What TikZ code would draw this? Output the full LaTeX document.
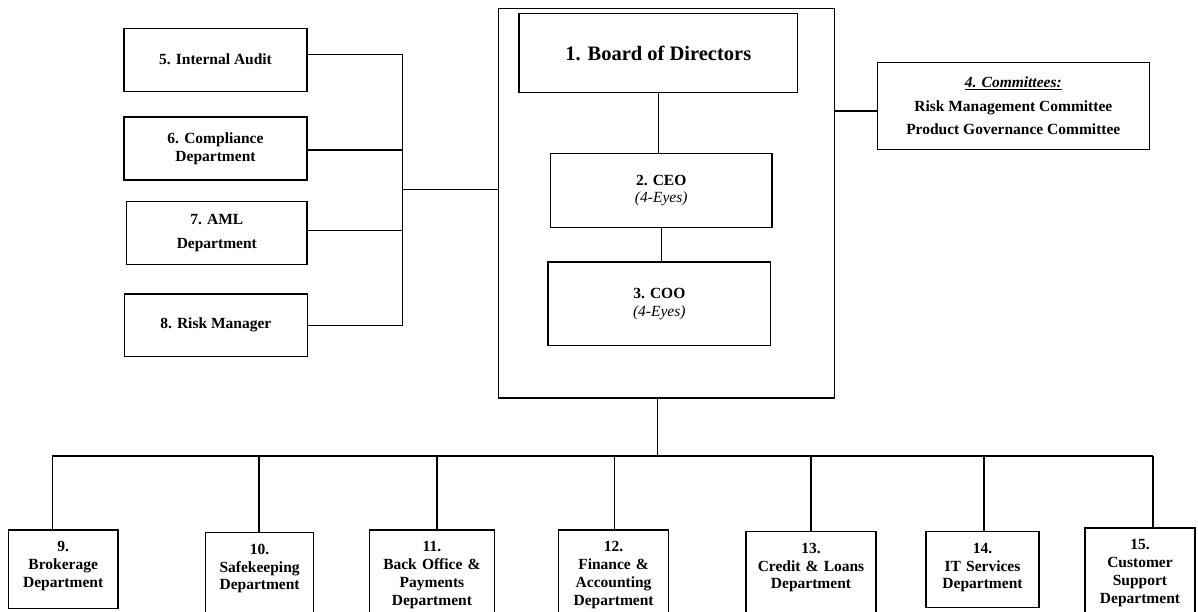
\documentclass[tikz,border=0pt]{standalone}
\usepackage{fontspec}
\setmainfont{Liberation Serif}
\usetikzlibrary{positioning}

\begin{document}
\begin{tikzpicture}
                [x=1pt,y=-1pt,
                 every node/.style={font=\fontsize{15.5}{17.8}\selectfont\bfseries},
                 box/.style={draw,line width=1.2pt,align=center,inner sep=2pt},
                 dept/.style={box,anchor=north,inner sep=0pt,text width=#1,text height=22pt},
                 link/.style={line width=1.2pt}]

                \useasboundingbox (0,0) rectangle (1198,611);
                \clip (0,0) rectangle (1198,611);

                % management block
                \node[box,minimum width=336pt,minimum height=389.7pt] (mgmt) at (666.7,203.2) {};
                \node[box,minimum width=278.7pt,minimum height=78.6pt,
                      font=\fontsize{20.5}{24}\selectfont\bfseries] (board) at (658.3,53) {1. Board of Directors};
                \node[box,minimum width=221.7pt,minimum height=74.4pt] (ceo) at (661.2,190.5) {2. CEO\\{\mdseries\itshape (4-Eyes)}};
                \node[box,minimum width=222.7pt,minimum height=83.7pt] (coo) at (659.3,303.8) {3. COO\\{\mdseries\itshape (4-Eyes)}};

                \node[box,minimum width=272pt,minimum height=87pt] (committees) at (1013.3,105.8)
                    {\underline{\itshape 4. Committees:}\\[5.5pt]Risk Management Committee\\[5.5pt]Product Governance Committee};

                % control functions
                \node[box,minimum width=183pt,minimum height=63pt]   (unit 5) at (215.5,59.7)  {5. Internal Audit};
                \node[box,minimum width=183pt,minimum height=63pt]   (unit 6) at (215.5,148.5) {6. Compliance\\Department};
                \node[box,minimum width=180.3pt,minimum height=62.6pt] (unit 7) at (216.8,233) {7. AML\\[6pt]Department};
                \node[box,minimum width=183pt,minimum height=62.7pt] (unit 8) at (215.8,325.3) {8. Risk Manager};

                % departments
                \node[dept=109.6pt,text depth=56.7pt] (dept 9)  at (63.2,529.3)  {9.\\Brokerage\\Department};
                \node[dept=108.3pt,text depth=70pt]   (dept 10) at (259.6,531.7) {10.\\Safekeeping\\Department};
                \node[dept=125.1pt,text depth=70pt]   (dept 11) at (431.9,529.3) {11.\\Back Office \&\\Payments\\Department};
                \node[dept=109.7pt,text depth=70pt]   (dept 12) at (613.6,529.3) {12.\\Finance \&\\Accounting\\Department};
                \node[dept=130pt,text depth=70pt]     (dept 13) at (811,530.7)   {13.\\Credit \& Loans\\Department};
                \node[dept=113pt,text depth=54pt]     (dept 14) at (982.5,530.7) {14.\\IT Services\\Department};
                \node[dept=110pt,text depth=70pt]     (dept 15) at (1140,527.3)  {15.\\Customer\\Support\\Department};

                % connectors
                \draw[link] (board.south) -- (board.south |- ceo.north);
                \draw[link] (ceo.south) -- (ceo.south |- coo.north);
                \draw[link] ([yshift=-5.2pt]committees.west) -- ([yshift=-5.2pt]committees.west -| mgmt.east);

                \coordinate (left bus) at (402.3,189.3);
                \draw[link] ([yshift=5.5pt]unit 5.east) -| (left bus);
                \draw[link] ([yshift=-1.5pt]unit 6.east) -- ([yshift=-1.5pt]unit 6.east -| left bus);
                \draw[link] ([yshift=2.3pt]unit 7.east) -- ([yshift=2.3pt]unit 7.east -| left bus);
                \draw[link] (unit 8.east) -| (left bus);
                \draw[link] (left bus) -- (left bus -| mgmt.west);

                \coordinate (bus) at (657.3,456);
                \draw[link] (mgmt.south -| bus) -- (bus);
                \draw[link] ([xshift=-10.8pt]dept 9.north |- bus) -- ([xshift=13pt]dept 15.north |- bus);
                \foreach \n/\dx in {9/-10.8,10/-0.6,11/5.1,12/0.9,13/0,14/1.5,15/13}
                    \draw[link] ([xshift=\dx pt]dept \n.north) -- ([xshift=\dx pt]dept \n.north |- bus);

            \end{tikzpicture}
\end{document}
